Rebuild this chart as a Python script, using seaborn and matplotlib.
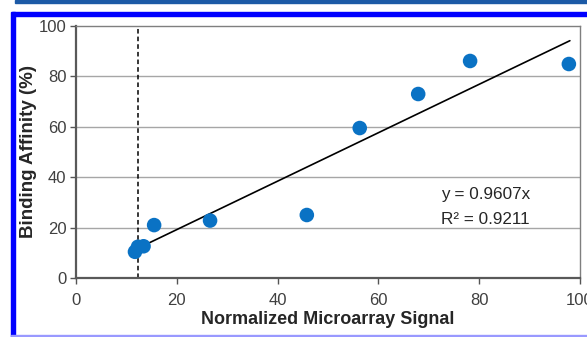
import numpy as np
import pandas as pd
import matplotlib
matplotlib.use("Agg")
import matplotlib.pyplot as plt
from matplotlib.patches import Rectangle
import seaborn as sns

# Measured values
signal = [11.7, 12.3, 13.4, 15.5, 26.6, 45.8, 56.3, 67.9, 78.2, 97.8]
affinity = [10.4, 12.4, 12.6, 21.0, 22.8, 25.0, 59.5, 73.0, 86.1, 84.9]
slope = 0.9607
r_squared = 0.9211
cutoff = 12.3
fit_end = 98.0
x_ticks = [0, 20, 40, 60, 80, 100]
y_ticks = [0, 20, 40, 60, 80, 100]

sns.set_theme(style="white")
plt.rcParams["font.family"] = ["Liberation Sans", "DejaVu Sans"]

df = pd.DataFrame({"signal": signal, "affinity": affinity})

fig = plt.figure(figsize=(5.87, 3.37), dpi=100)
ax = fig.add_axes([0.1295, 0.175, 0.8585, 0.748])

# Horizontal gridlines
for yv in y_ticks[1:-1]:
    ax.axhline(yv, color="#a6a6a6", lw=1.0, zorder=0)

# Threshold line
ax.axvline(cutoff, color="black", lw=1.1, ls=(0, (3, 2)), zorder=1)

# Linear fit through the origin
fit_x = np.array([cutoff, fit_end])
ax.plot(fit_x, slope * fit_x, color="black", lw=1.2, zorder=2)

sns.scatterplot(data=df, x="signal", y="affinity", ax=ax, color="#0a72c4",
                s=110, edgecolor="none", zorder=3, legend=False)

ax.set_xlim(0, 100)
ax.set_ylim(0, 100)
ax.set_xticks(x_ticks)
ax.set_yticks(y_ticks)
ax.tick_params(axis="both", labelsize=12, labelcolor="#404040", color="#555555",
               length=4, width=1.0, direction="out", bottom=True, left=True, pad=3)
ax.tick_params(axis="x", pad=7)

for side in ["left", "bottom"]:
    ax.spines[side].set_color("#595959")
    ax.spines[side].set_linewidth(1.6)
for side in ["top", "right"]:
    ax.spines[side].set_color("#7f7f7f")
    ax.spines[side].set_linewidth(1.0)

ax.set_xlabel("Normalized Microarray Signal", fontsize=13, fontweight="bold",
              color="#262626", labelpad=2)
ax.set_ylabel("Binding Affinity (%)", fontsize=13.5, fontweight="bold",
              color="#262626", labelpad=1)

ax.text(72.5, 33.3, f"y = {slope}x", fontsize=12.3, color="#262626", va="center")
ax.text(72.5, 23.4, f"R² = {r_squared}", fontsize=12.3, color="#262626", va="center")

# Page frame
W, H = 587, 337
fig.patches.append(Rectangle((15 / W, 1 - 3 / H), 1, 3 / H, transform=fig.transFigure,
                             color="#1c5aa6", zorder=-1))
fig.patches.append(Rectangle((12 / W, 1 - 16 / H), 1, 4 / H, transform=fig.transFigure,
                             color="#0000ff", zorder=-1))
fig.patches.append(Rectangle((11 / W, 0), 4 / W, 1 - 12 / H, transform=fig.transFigure,
                             color="#0000ff", zorder=-1))
fig.patches.append(Rectangle((11 / W, 1 / H), 1, 1.5 / H, transform=fig.transFigure,
                             color="#9999ff", zorder=-1))

fig.savefig("out.png", dpi=100)
